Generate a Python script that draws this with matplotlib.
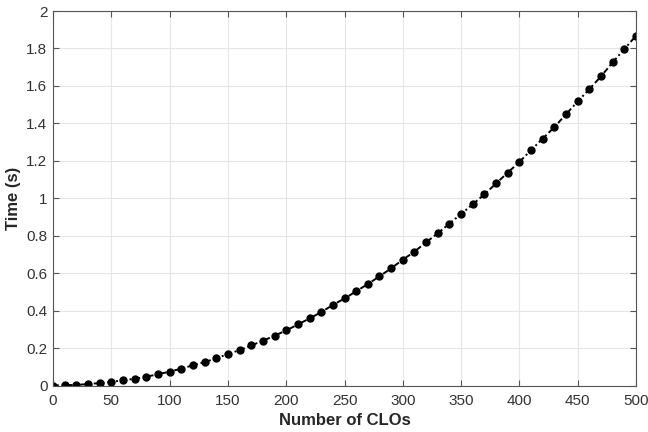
import matplotlib
matplotlib.use("Agg")
import matplotlib.pyplot as plt
from matplotlib.ticker import FuncFormatter, MultipleLocator

n_clos = list(range(0, 501, 10))
time_s = [0.000, 0.002, 0.003, 0.008, 0.013, 0.019, 0.028, 0.036, 0.047, 0.060,
          0.074, 0.090, 0.108, 0.125, 0.145, 0.168, 0.189, 0.214, 0.239, 0.266,
          0.294, 0.326, 0.358, 0.392, 0.430, 0.465, 0.503, 0.542, 0.583, 0.626,
          0.672, 0.715, 0.765, 0.813, 0.865, 0.916, 0.968, 1.021, 1.079, 1.137,
          1.194, 1.257, 1.319, 1.380, 1.449, 1.517, 1.583, 1.651, 1.726, 1.797,
          1.868]

plt.rcParams['font.family'] = ['Liberation Sans', 'DejaVu Sans']

fig = plt.figure(figsize=(6.48, 4.32), dpi=100)
ax = fig.add_axes([0.0818, 0.1076, 0.9815 - 0.0818, 0.9745 - 0.1076])

ax.plot(n_clos, time_s, linestyle=(0, (3, 1.5, 1, 1.5)), color='black', linewidth=1.4,
        marker='o', markersize=5, markerfacecolor='black', markeredgecolor='black')

ax.set_xlim(0, 500)
ax.set_ylim(0, 2)
ax.xaxis.set_major_locator(MultipleLocator(50))
ax.yaxis.set_major_locator(MultipleLocator(0.2))
ax.yaxis.set_major_formatter(FuncFormatter(lambda v, p: f"{v:g}"))

ax.grid(True, color='#e6e6e6', linewidth=0.8)
ax.set_axisbelow(True)
for s in ax.spines.values():
    s.set_color('#555555')
    s.set_linewidth(0.8)
ax.tick_params(direction='in', length=4, width=0.8, color='#555555',
               top=True, right=True, labelsize=11, labelcolor='#333333', pad=4)
ax.tick_params(axis='x', pad=6)

ax.set_xlabel('Number of CLOs', fontsize=12, fontweight='bold', color='#262626', labelpad=4)
ax.set_ylabel('Time (s)', fontsize=12, fontweight='bold', color='#262626', labelpad=4)

fig.savefig('out.png', dpi=100)
